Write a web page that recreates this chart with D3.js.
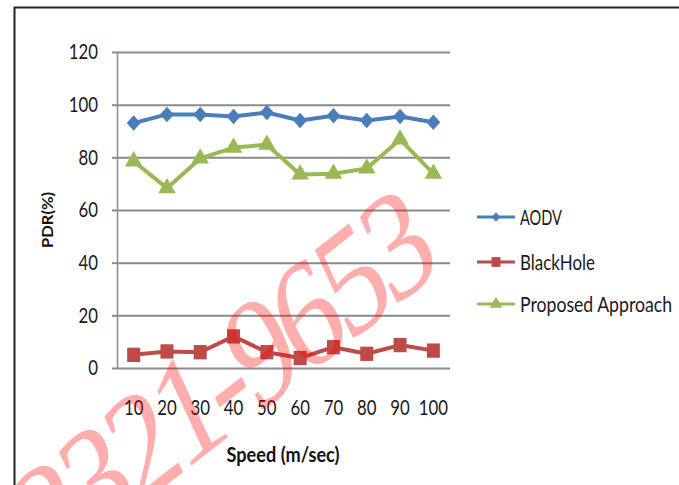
<!DOCTYPE html>
<html><head><meta charset="utf-8">
<script src="https://cdn.jsdelivr.net/npm/d3@7"></script>
<style>
html,body{margin:0;padding:0;background:#fff;}
svg{display:block;}
text{font-family:Lato,"Open Sans","Liberation Sans",sans-serif;}
</style></head>
<body>
<svg id="chart" width="679" height="485"></svg>
<script>
const categories = ["10","20","30","40","50","60","70","80","90","100"];
const aodv = [93, 96.3, 96.3, 95.5, 97, 94, 95.8, 94, 95.5, 93.3];
const blackHole = [5, 6.3, 6, 12, 6, 3.8, 7.9, 5.4, 8.7, 6.6];
const proposed = [78.5, 68.3, 79.6, 83.7, 84.8, 73.5, 73.8, 75.8, 86.8, 73.8];
const yTicks = [0, 20, 40, 60, 80, 100, 120];
const seriesNames = ["AODV", "BlackHole", "Proposed Approach"];
const seriesColors = ["#4a7ebb", "#be4b48", "#98b954"];
const xTitle = "Speed (m/sec)";
const yTitle = "PDR(%)";
const watermark = "2321-9653";

const svg = d3.select("#chart");
const L = 117, R = 450, T = 52, B = 368;
const x = d3.scaleBand().domain(categories).range([L, R]);
const y = d3.scaleLinear().domain([0, 120]).range([B, T]);
const cx = d => x(d) + x.bandwidth() / 2;

function squeeze(sel, k) {
  sel.each(function () {
    const w = this.getComputedTextLength();
    d3.select(this).attr("textLength", w * k).attr("lengthAdjust", "spacingAndGlyphs");
  });
}
function fitTo(sel, w) {
  sel.attr("textLength", w).attr("lengthAdjust", "spacingAndGlyphs");
}

// frame
svg.append("line").attr("x1", 14).attr("x2", 679).attr("y1", 7.5).attr("y2", 7.5).attr("stroke", "#222").attr("stroke-width", 2);
svg.append("line").attr("x1", 14.5).attr("x2", 14.5).attr("y1", 7).attr("y2", 485).attr("stroke", "#222").attr("stroke-width", 2);

// gridlines
const grid = svg.append("g").attr("transform", `translate(${L},0)`)
  .call(d3.axisLeft(y).tickValues(yTicks).tickSize(-(R - L)).tickFormat(""));
grid.select(".domain").remove();
grid.selectAll(".tick line").attr("stroke", "#8a8a8a").attr("stroke-width", 2);

// left axis
const ya = svg.append("g").attr("transform", `translate(${L},0)`)
  .call(d3.axisLeft(y).tickValues(yTicks).tickSize(5).tickPadding(14));
ya.select(".domain").attr("stroke", "#8a8a8a").attr("stroke-width", 1.5).attr("d", `M0.5,${T}V${B}`);
ya.selectAll(".tick line").attr("stroke", "#8a8a8a").attr("stroke-width", 2);
ya.selectAll(".tick text").attr("font-size", 21).attr("fill", "#1a1a1a").attr("font-family", null)
  .style("font-family", 'Lato,"Open Sans",sans-serif');
squeeze(ya.selectAll(".tick text"), 0.8);

// x axis labels
const xa = svg.append("g").attr("transform", `translate(0,${B})`)
  .call(d3.axisBottom(x).tickSize(0).tickPadding(32));
xa.select(".domain").remove();
xa.selectAll(".tick text").attr("font-size", 21).attr("fill", "#1a1a1a").attr("font-family", null)
  .style("font-family", 'Lato,"Open Sans",sans-serif');
squeeze(xa.selectAll(".tick text"), 0.8);

// titles
const xt = svg.append("text").attr("x", 283).attr("y", 462).attr("text-anchor", "middle")
  .attr("font-size", 20).attr("font-weight", "bold").attr("fill", "#111").text(xTitle);
fitTo(xt, 113);
const yt = svg.append("text").attr("transform", "translate(53,220) rotate(-90)").attr("text-anchor", "middle")
  .attr("font-size", 16).attr("font-weight", "bold").attr("fill", "#111").text(yTitle);
fitTo(yt, 56);

const line = d3.line().x((d, i) => cx(categories[i])).y(d => y(d));
const allSeries = [aodv, blackHole, proposed];
const symbols = [d3.symbolSquare, d3.symbolSquare, d3.symbolTriangle];
const sizes = [96, 169, 135];
const extra = [" scale(1,1.12) rotate(45)", " scale(1,1.1)", " scale(1,1.0)"];

allSeries.forEach((vals, si) => {
  svg.append("path").datum(vals).attr("d", line).attr("fill", "none")
    .attr("stroke", seriesColors[si]).attr("stroke-width", 4).attr("stroke-linejoin", "round");
  svg.selectAll(null).data(vals).enter().append("path")
    .attr("d", d3.symbol().type(symbols[si]).size(sizes[si]))
    .attr("transform", (d, i) => `translate(${cx(categories[i])},${y(d)})` + extra[si])
    .attr("fill", seriesColors[si]);
});

// legend
const legY = [217, 262, 304];
const legSizes = [36, 80, 70];
const legW = [42, 75, 152];
seriesNames.forEach((name, si) => {
  const g = svg.append("g").attr("transform", `translate(0,${legY[si]})`);
  g.append("line").attr("x1", 477).attr("x2", 515).attr("stroke", seriesColors[si]).attr("stroke-width", 3);
  g.append("path").attr("d", d3.symbol().type(symbols[si]).size(legSizes[si]))
    .attr("transform", "translate(496,0)" + extra[si]).attr("fill", seriesColors[si]);
  const t = g.append("text").attr("x", 520).attr("y", 8).attr("font-size", 21).attr("fill", "#1a1a1a").text(name);
  fitTo(t, legW[si]);
});

// watermark
svg.append("text").attr("transform", "scale(1,1.3) translate(438,210) rotate(-31)").attr("text-anchor", "end")
  .style("font-family", '"Liberation Serif","DejaVu Serif",serif').attr("font-size", 120)
  .attr("letter-spacing", -7)
  .attr("fill", "#ff0000").attr("fill-opacity", 0.32).text(watermark);
</script>
</body></html>
